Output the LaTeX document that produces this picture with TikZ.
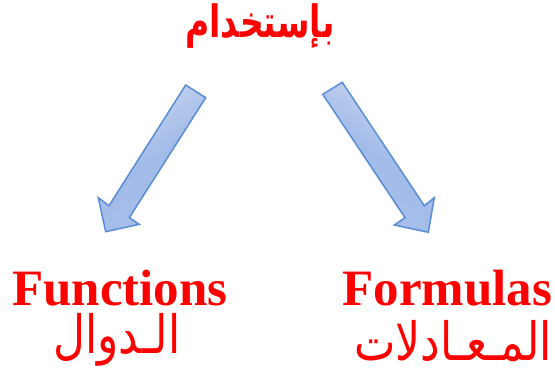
\documentclass[tikz,border=0pt]{standalone}
\usepackage{fontspec}
\usepackage{graphicx}
\setmainfont{Liberation Serif}
\newfontfamily\arabicfont[Script=Arabic]{DejaVu Sans}
\TeXXeTstate=1
\definecolor{arrowline}{HTML}{5B8DD6}
\definecolor{arrowlight}{HTML}{CBD8F1}
\definecolor{arrowdark}{HTML}{A2BBE8}
\tikzset{
  blockarrow/.style={draw=arrowline, line width=1.5pt, line join=miter,
    left color=arrowlight, right color=arrowdark!85!arrowlight, middle color=arrowdark},
  entxt/.style={text=red, font=\fontsize{51}{51}\selectfont\bfseries, inner sep=0pt, anchor=base},
  artxt/.style={text=red, font=\fontsize{44}{44}\selectfont\arabicfont, inner sep=0pt},
  titletxt/.style={text=red, font=\fontsize{33}{33}\selectfont\arabicfont\bfseries, inner sep=0pt}
}
\begin{document}
\begin{tikzpicture}[x=1pt,y=-1pt]
\useasboundingbox (0,0) rectangle (555,378);
\fill[white] (0,0) rectangle (555,378);
\node[titletxt] (title) at (260,26) {\scalebox{1}[1.35]{\beginR بإستخدام\endR}};
\draw[blockarrow, shading angle=33] (185.7,85) -- (205.7,97.7) -- (129.3,217.7) -- (139.3,224.3) -- (105.7,231.7) -- (98.3,197.7) -- (109,205.7) -- cycle;
\draw[blockarrow, shading angle=-33] (322.7,94.3) -- (342.3,82.3) -- (424.3,205.7) -- (434.3,197.7) -- (428.3,232.3) -- (394.3,225) -- (405,217.7) -- cycle;
\node[entxt] (func) at (120,305) {Functions};
\node[entxt] (form) at (447.5,305) {Formulas};
\node[artxt] (dawal) at (117,340) {\scalebox{1}[1.2]{\beginR الـدوال\endR}};
\node[artxt] (muad) at (453,341) {\scalebox{1}[1.2]{\beginR المـعـادلات\endR}};
\end{tikzpicture}
\end{document}
